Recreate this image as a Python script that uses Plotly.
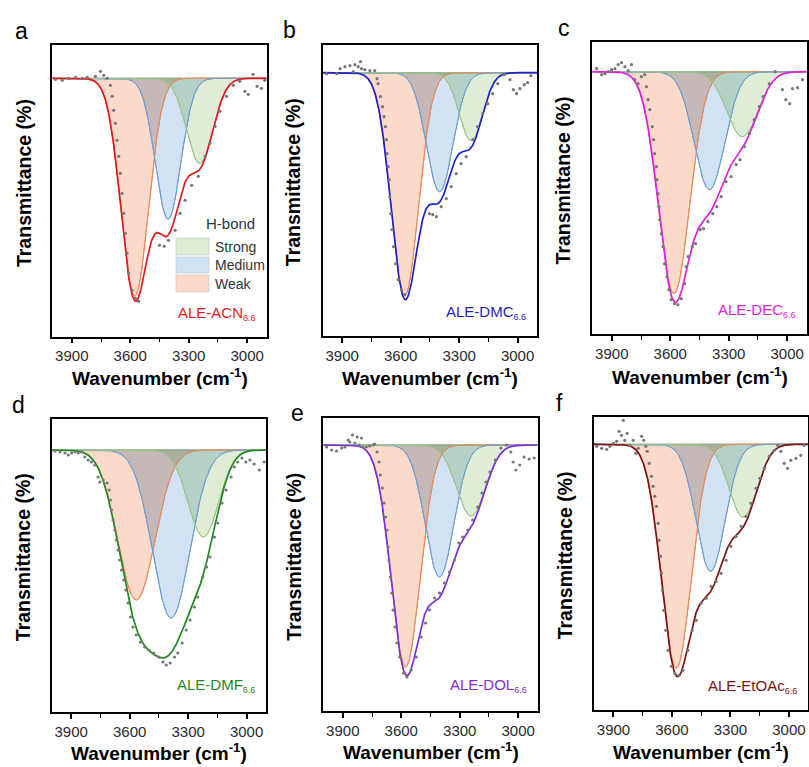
import numpy as np
import plotly.graph_objects as go

# ---------------- data ----------------
panel_letters = ["a", "b", "c", "d", "e", "f"]
sample_names = ["ALE-ACN", "ALE-DMC", "ALE-DEC", "ALE-DMF", "ALE-DOL", "ALE-EtOAc"]
sample_sub = "6.6"
band_names = ["Weak", "Medium", "Strong"]

# Gaussian band parameters (centre cm-1, depth a.u., sigma cm-1)
weak_center = [3577, 3579, 3581, 3566, 3578, 3578]
weak_depth = [218, 223, 222, 150, 222, 224]
weak_sigma = [70, 70, 80, 95, 74, 76]
medium_center = [3406, 3400, 3399, 3387, 3404, 3402]
medium_depth = [141, 119, 118, 168, 132, 127]
medium_sigma = [65, 68, 78, 95, 73, 74]
strong_center = [3244, 3239, 3230, 3222, 3242, 3235]
strong_depth = [85, 68, 65, 87, 71, 73]
strong_sigma = [68, 60, 80, 78, 74, 72]

# measured points (wavenumber, transmittance offset a.u.)
dots_a_x = [3983, 3949, 3915, 3881, 3847, 3821, 3779, 3753, 3736, 3719, 3702, 3693, 3685, 3676, 3668, 3659, 3651, 3642, 3634, 3625, 3617, 3608, 3591, 3574, 3557, 3450, 3426, 3404, 3370, 3344, 3319, 3285, 3251, 3216, 3191, 3165, 3140, 3106, 3072, 3038, 3012, 2995, 2970, 2949, 2927, 2910]
dots_a_y = [-1, -2, 0, 1, 0, 1, 2, 7, 3, 0, -7, -18, -32, -45, -62, -78, -95, -115, -135, -155, -175, -195, -212, -220, -223, -167, -168, -162, -152, -135, -122, -107, -98, -78, -65, -48, -33, -18, -7, -3, -13, -16, 4, -8, -10, -2]
dots_b_x = [3980, 3928, 3911, 3886, 3860, 3843, 3835, 3818, 3806, 3801, 3784, 3758, 3733, 3721, 3716, 3704, 3693, 3685, 3678, 3673, 3670, 3664, 3659, 3656, 3651, 3644, 3636, 3625, 3613, 3596, 3579, 3452, 3435, 3417, 3392, 3366, 3341, 3315, 3290, 3264, 3230, 3205, 3179, 3153, 3128, 3102, 3068, 3039, 3022, 3005, 2988, 2966, 2949, 2932]
dots_b_y = [-1, -1, 4, 6, 7, 1, 8, 6, 11, 4, 3, 2, 2, -6, -11, -24, -34, -44, -54, -67, -81, -94, -107, -124, -141, -157, -174, -191, -207, -217, -222, -141, -142, -144, -134, -126, -114, -101, -91, -84, -67, -54, -41, -31, -21, -11, -2, -7, -17, -21, -16, -12, -10, -3]
dots_c_x = [3978, 3952, 3935, 3918, 3901, 3884, 3867, 3850, 3833, 3816, 3799, 3782, 3765, 3748, 3731, 3722, 3714, 3705, 3692, 3685, 3680, 3671, 3668, 3663, 3658, 3654, 3646, 3637, 3629, 3617, 3607, 3595, 3578, 3561, 3544, 3526, 3518, 3509, 3487, 3470, 3446, 3429, 3407, 3382, 3361, 3339, 3314, 3288, 3262, 3242, 3220, 3194, 3169, 3143, 3123, 3092, 3062, 3025, 3007, 2987, 2973, 2947, 2922]
dots_c_y = [3, -3, -2, 0, 2, 3, 7, 9, 5, 1, 7, -8, -12, -5, -3, -15, -28, -38, -55, -68, -82, -95, -108, -122, -135, -148, -162, -175, -192, -205, -218, -228, -232, -233, -227, -212, -195, -185, -175, -172, -158, -157, -150, -142, -135, -125, -110, -105, -93, -88, -75, -62, -48, -35, -25, -12, 0, -18, -28, -32, -17, -16, -8]
dots_d_x = [3983, 3957, 3932, 3915, 3898, 3881, 3864, 3847, 3830, 3813, 3796, 3779, 3762, 3753, 3736, 3716, 3705, 3699, 3693, 3685, 3676, 3668, 3659, 3651, 3642, 3630, 3620, 3608, 3596, 3583, 3566, 3545, 3523, 3501, 3477, 3450, 3429, 3412, 3392, 3370, 3353, 3331, 3310, 3290, 3268, 3251, 3225, 3205, 3188, 3165, 3148, 3126, 3106, 3080, 3063, 3046, 3024, 3004, 2983, 2961, 2935, 2910]
dots_d_y = [-1, -2, -3, -5, -3, -2, -3, -2, -7, -10, -12, -15, -27, -32, -30, -33, -40, -50, -60, -70, -80, -90, -100, -110, -120, -130, -140, -153, -167, -177, -185, -192, -197, -200, -203, -207, -212, -215, -213, -207, -203, -193, -180, -170, -157, -147, -127, -117, -107, -87, -73, -53, -40, -27, -17, -12, -8, -12, -10, -14, -20, -12]
dots_e_x = [3983, 3957, 3932, 3906, 3889, 3872, 3864, 3850, 3838, 3826, 3816, 3804, 3796, 3779, 3762, 3745, 3736, 3724, 3714, 3707, 3697, 3688, 3680, 3673, 3668, 3663, 3656, 3649, 3642, 3632, 3622, 3608, 3588, 3571, 3549, 3523, 3498, 3475, 3455, 3429, 3404, 3378, 3353, 3327, 3305, 3285, 3259, 3234, 3208, 3186, 3165, 3145, 3118, 3089, 3060, 3038, 3026, 3012, 2992, 2970, 2944, 2918]
dots_e_y = [-2, -5, -6, -3, -2, 5, 3, 10, 2, 8, 0, 7, -2, -2, -1, 0, 1, -7, -17, -30, -43, -58, -72, -85, -102, -115, -132, -148, -165, -182, -198, -212, -228, -232, -225, -212, -192, -178, -165, -153, -148, -138, -127, -115, -98, -92, -85, -75, -62, -48, -37, -27, -15, -3, 0, -7, -17, -25, -20, -12, -14, -13]
dots_f_x = [3986, 3961, 3935, 3918, 3901, 3884, 3871, 3859, 3850, 3842, 3830, 3816, 3799, 3785, 3773, 3756, 3745, 3734, 3727, 3717, 3705, 3697, 3688, 3680, 3671, 3666, 3659, 3654, 3649, 3642, 3632, 3620, 3603, 3586, 3564, 3544, 3518, 3496, 3475, 3450, 3424, 3399, 3373, 3348, 3322, 3297, 3271, 3245, 3220, 3195, 3169, 3149, 3126, 3101, 3075, 3058, 3041, 3024, 3007, 2990, 2964, 2939, 2922]
dots_f_y = [-2, -4, -5, -2, 1, 3, 13, 9, 24, 4, 11, -1, 4, -9, -4, 8, 4, -2, -7, -19, -32, -42, -52, -62, -79, -96, -112, -129, -146, -166, -186, -206, -222, -229, -231, -226, -206, -186, -176, -159, -154, -142, -137, -129, -116, -102, -92, -82, -72, -59, -44, -34, -24, -12, -6, -1, -7, -19, -24, -16, -14, -11, -1]

dots_x = [dots_a_x, dots_b_x, dots_c_x, dots_d_x, dots_e_x, dots_f_x]
dots_y = [dots_a_y, dots_b_y, dots_c_y, dots_d_y, dots_e_y, dots_f_y]

x_ticks = [3900, 3600, 3300, 3000]
x_minor_ticks = [3750, 3450, 3150]

# ---------------- styling / layout ----------------
W, H = 809, 767
FONT = "Liberation Sans, Arial, sans-serif"
sum_colors = ["#e3191f", "#1f22c8", "#e21ee0", "#1e8a1e", "#7b2ee0", "#7d1214"]
band_fill = ["rgba(245,140,90,0.32)", "rgba(90,150,215,0.28)", "rgba(140,190,110,0.28)"]
band_line = ["#ef8a58", "#6d9fd6", "#9cc58a"]
overlap_tint = {(0, 1): "rgba(140,100,60,0.15)", (1, 2): "rgba(60,110,110,0.08)"}

# panel boxes in pixels: left, top, right, bottom, baseline
boxes = [(52.3, 45.0, 266.7, 336.5, 78.3),
         (322.7, 45.0, 537.1, 336.0, 72.7),
         (592.3, 42.3, 806.7, 334.0, 71.7),
         (51.7, 419.0, 266.1, 712.0, 450.0),
         (323.3, 417.7, 537.7, 711.0, 445.0),
         (594.0, 416.7, 808.4, 710.0, 444.3)]
letter_pos = [(21, 31), (289, 30), (564, 28), (18, 405), (297, 413), (559, 403)]
label_y = [313, 312, 310, 685, 685, 686]
xtitle_off = [41, 41, 42, 40, 40, 41]


def PX(x):
    return x / W


def PY(y):
    return 1 - y / H


def gauss(x, c, d, s):
    return -d * np.exp(-((x - c) ** 2) / (2.0 * s ** 2))


grid = np.linspace(4000, 2900, 551)
fig = go.Figure()
annotations = []
shapes = []
layout = dict(width=W, height=H, margin=dict(l=0, r=0, t=0, b=0),
              paper_bgcolor="white", plot_bgcolor="white",
              showlegend=False, font=dict(family=FONT, color="#222"))

for i in range(6):
    n = i + 1
    xr = "x" if n == 1 else f"x{n}"
    yr = "y" if n == 1 else f"y{n}"
    xk = "xaxis" if n == 1 else f"xaxis{n}"
    yk = "yaxis" if n == 1 else f"yaxis{n}"
    L, T, R, B, base = boxes[i]

    params = [(weak_center[i], weak_depth[i], weak_sigma[i]),
              (medium_center[i], medium_depth[i], medium_sigma[i]),
              (strong_center[i], strong_depth[i], strong_sigma[i])]
    comps = [gauss(grid, c, d, s) for (c, d, s) in params]
    total = comps[0] + comps[1] + comps[2]
    for k, g in enumerate(comps):
        fig.add_trace(go.Scatter(
            x=np.concatenate([grid, grid[::-1]]),
            y=np.concatenate([g, np.zeros_like(grid)]),
            fill="toself", fillcolor=band_fill[k], mode="lines",
            line=dict(color=band_line[k], width=1), name=band_names[k],
            xaxis=xr, yaxis=yr, hoverinfo="skip"))
    # darker tint where neighbouring bands overlap
    for (k1, k2), tint in overlap_tint.items():
        ov = np.maximum(comps[k1], comps[k2])
        fig.add_trace(go.Scatter(
            x=np.concatenate([grid, grid[::-1]]),
            y=np.concatenate([ov, np.zeros_like(grid)]),
            fill="toself", fillcolor=tint, mode="none",
            xaxis=xr, yaxis=yr, hoverinfo="skip"))
    # redraw component outlines on top of tints
    for k, g in enumerate(comps):
        fig.add_trace(go.Scatter(x=grid, y=g, mode="lines",
                                 line=dict(color=band_line[k], width=1),
                                 xaxis=xr, yaxis=yr, hoverinfo="skip"))
    fig.add_trace(go.Scatter(x=grid, y=total, mode="lines",
                             line=dict(color=sum_colors[i], width=1.7),
                             xaxis=xr, yaxis=yr, name="fit"))
    fig.add_trace(go.Scatter(x=dots_x[i], y=dots_y[i], mode="markers",
                             marker=dict(color="#777777", size=3.2),
                             xaxis=xr, yaxis=yr, name="data"))

    layout[xk] = dict(domain=[PX(L), PX(R)], range=[4000, 2900],
                      anchor=yr, showline=True, mirror=True,
                      linecolor="black", linewidth=1.8,
                      showgrid=False, zeroline=False,
                      tickmode="array", tickvals=x_ticks,
                      ticks="outside", ticklen=5, tickwidth=1.5, tickcolor="black",
                      tickfont=dict(size=15, color="#2a2a2a", family=FONT),
                      minor=dict(tickvals=x_minor_ticks, ticks="outside",
                                 ticklen=4, tickwidth=1.3, tickcolor="black",
                                 showgrid=False))
    layout[yk] = dict(domain=[PY(B), PY(T)], range=[-(B - base), base - T],
                      anchor=xr, showline=True, mirror=True,
                      linecolor="black", linewidth=1.8,
                      showgrid=False, zeroline=False,
                      showticklabels=False, ticks="")

    # axis titles
    annotations.append(dict(x=PX((L + R) / 2), y=PY(B + xtitle_off[i]), xref="paper", yref="paper",
                            text="<b>Wavenumber (cm<sup>-1</sup>)</b>", showarrow=False,
                            font=dict(size=19, color="black", family=FONT),
                            xanchor="center", yanchor="middle"))
    annotations.append(dict(x=PX(L - 29), y=PY((T + B) / 2 - 8), xref="paper", yref="paper",
                            text="<b>Transmittance (%)</b>",
                            showarrow=False, textangle=-90,
                            font=dict(size=19.5, color="black", family=FONT),
                            xanchor="center", yanchor="middle"))
    # panel letter
    lx, ly = letter_pos[i]
    annotations.append(dict(x=PX(lx), y=PY(ly), xref="paper", yref="paper",
                            text=panel_letters[i], showarrow=False,
                            font=dict(size=23, color="black", family=FONT),
                            xanchor="center", yanchor="middle"))
    # sample label
    annotations.append(dict(x=PX(R - 9), y=PY(label_y[i]), xref="paper", yref="paper",
                            text=f"{sample_names[i]}<sub><span style='font-size:9px'>{sample_sub}</span></sub>",
                            showarrow=False,
                            font=dict(size=15, color=sum_colors[i], family=FONT),
                            xanchor="right", yanchor="middle"))

# legend in panel a
annotations.append(dict(x=PX(230), y=PY(223), xref="paper", yref="paper", text="H-bond",
                        showarrow=False, font=dict(size=15, color="#333", family=FONT),
                        xanchor="center", yanchor="middle"))
leg_rows = [("Strong", 2, 238, 255), ("Medium", 1, 257, 273), ("Weak", 0, 275, 292)]
for lab, k, y0, y1 in leg_rows:
    shapes.append(dict(type="rect", xref="paper", yref="paper",
                       x0=PX(176), x1=PX(209), y0=PY(y1), y1=PY(y0),
                       fillcolor=band_fill[k], line=dict(color="rgba(200,200,200,0.8)", width=0.8)))
    annotations.append(dict(x=PX(213), y=PY((y0 + y1) / 2), xref="paper", yref="paper",
                            text=lab, showarrow=False,
                            font=dict(size=14, color="#333", family=FONT),
                            xanchor="left", yanchor="middle"))

layout["annotations"] = annotations
layout["shapes"] = shapes
fig.update_layout(**layout)
fig.write_html("out.html")
